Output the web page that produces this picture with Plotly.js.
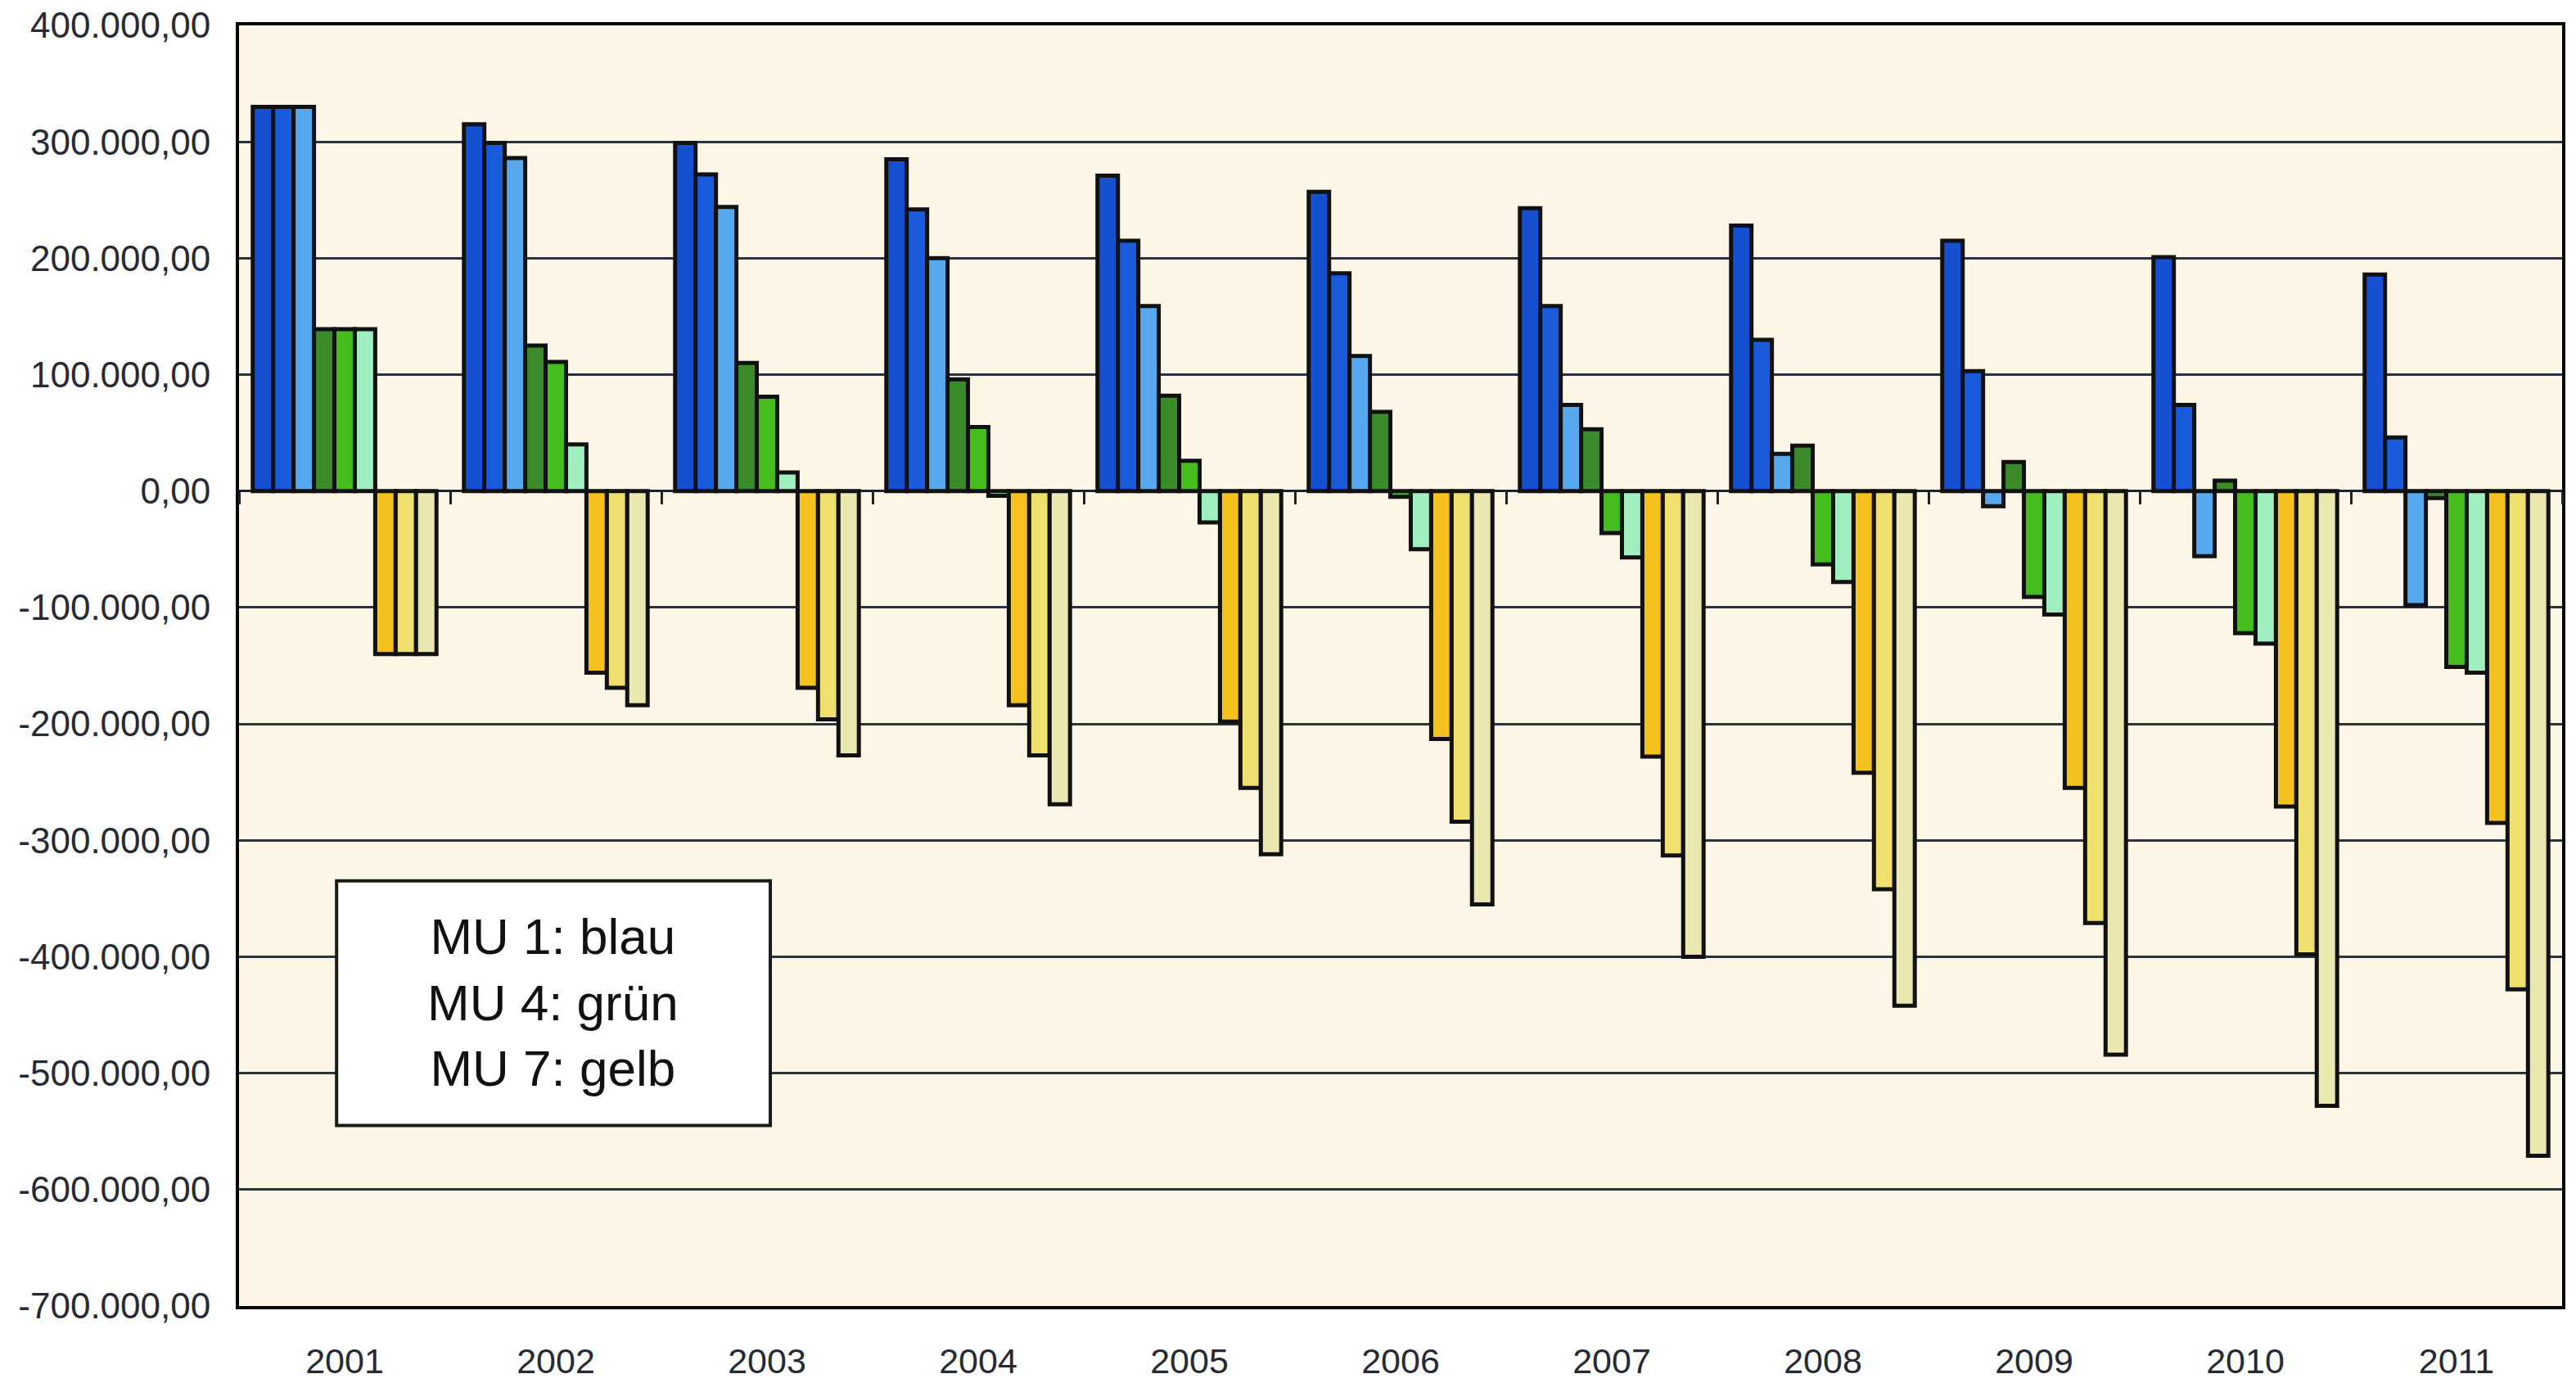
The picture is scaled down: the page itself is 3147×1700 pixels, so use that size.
<!DOCTYPE html>
<html>
<head>
<meta charset="utf-8">
<script src="https://cdn.plot.ly/plotly-3.0.1.min.js"></script>
<style>html,body{margin:0;padding:0;background:#fff;}#chart{width:3147px;height:1700px;}</style>
</head>
<body>
<div id="chart"></div>
<script>
const years = ['2001','2002','2003','2004','2005','2006','2007','2008','2009','2010','2011'];

// MU 1 (blau)
const mu1a = [330000, 315000, 299000, 285000, 271000, 257000, 243000, 228000, 215000, 201000, 186000];
const mu1b = [330000, 299000, 272000, 242000, 215000, 187000, 159000, 130000, 103000, 74000, 46000];
const mu1c = [330000, 286000, 244000, 200000, 159000, 116000, 74000, 32000, -13000, -56000, -98000];
// MU 4 (grün)
const mu4a = [139000, 125000, 110000, 96000, 82000, 68000, 53000, 39000, 25000, 9000, -6000];
const mu4b = [139000, 111000, 81000, 55000, 26000, -5000, -36000, -63000, -91000, -122000, -151000];
const mu4c = [139000, 40000, 16000, -4000, -27000, -50000, -57000, -78000, -106000, -131000, -156000];
// MU 7 (gelb)
const mu7a = [-140000, -156000, -169000, -184000, -198000, -213000, -228000, -242000, -255000, -271000, -285000];
const mu7b = [-140000, -169000, -196000, -227000, -255000, -284000, -313000, -342000, -371000, -398000, -428000];
const mu7c = [-140000, -184000, -227000, -269000, -312000, -355000, -400000, -442000, -484000, -528000, -571000];

const yTickVals = [400000, 300000, 200000, 100000, 0, -100000, -200000, -300000, -400000, -500000, -600000, -700000];
const yTickText = ['400.000,00','300.000,00','200.000,00','100.000,00','0,00','-100.000,00','-200.000,00','-300.000,00','-400.000,00','-500.000,00','-600.000,00','-700.000,00'];

const legendText = ['MU 1: blau', 'MU 4: grün', 'MU 7: gelb'];

const series = [mu1a, mu1b, mu1c, mu4a, mu4b, mu4c, mu7a, mu7b, mu7c];
const colors = ['#1450d0', '#1a5bdc', '#58a8ef', '#3b8b2b', '#45be1d', '#a0efc0', '#f4c11e', '#efdf6e', '#ebe7b0'];

const traces = series.map((vals, i) => ({
  type: 'bar',
  x: years,
  y: vals,
  marker: {color: colors[i], line: {color: '#111', width: 5}},
  showlegend: false,
  hoverinfo: 'y'
}));

// invisible helper trace so the zero-line tick axis is drawn
traces.push({
  type: 'scatter', mode: 'markers', x: years, y: mu1a, xaxis: 'x2',
  marker: {opacity: 0}, showlegend: false, hoverinfo: 'skip'
});

const font = 'Liberation Sans, Arial, sans-serif';
const txt = '#262a35';

const layout = {
  width: 3147, height: 1700,
  margin: {l: 292, r: 17, t: 31, b: 105},
  paper_bgcolor: '#ffffff',
  plot_bgcolor: '#fdf6e6',
  barmode: 'group',
  bargap: 0.13,
  bargroupgap: 0,
  font: {family: font, color: txt},
  xaxis: {
    type: 'category',
    showgrid: false,
    ticks: '',
    tickfont: {size: 43, family: font, color: txt},
    ticklabelstandoff: 26,
    showline: true, linecolor: '#000', linewidth: 4, mirror: true,
    range: [-0.5, 10.5]
  },
  xaxis2: {
    type: 'category',
    overlaying: 'x',
    anchor: 'free',
    position: 7 / 11,
    side: 'bottom',
    range: [-0.5, 10.5],
    tickson: 'boundaries',
    ticks: 'outside', ticklen: 15, tickwidth: 3, tickcolor: '#1c2230',
    showticklabels: false,
    showgrid: false, showline: false, zeroline: false
  },
  yaxis: {
    range: [-700000, 400000],
    tickmode: 'array',
    tickvals: yTickVals,
    ticktext: yTickText,
    tickfont: {size: 44, family: font, color: txt},
    ticks: '',
    ticklabelstandoff: 22,
    showgrid: true, gridcolor: '#2b3240', gridwidth: 3,
    zeroline: true, zerolinecolor: '#1c2230', zerolinewidth: 3,
    showline: true, linecolor: '#000', linewidth: 4, mirror: true
  },
  shapes: [{
    type: 'rect', xref: 'paper', yref: 'paper',
    x0: 0.042, x1: 0.2287, y0: 0.141, y1: 0.332,
    fillcolor: '#ffffff', line: {color: '#1a1a1a', width: 4},
    layer: 'above'
  }],
  annotations: [{
    xref: 'paper', yref: 'paper', x: 0.1353, y: 0.237,
    xanchor: 'center', yanchor: 'middle',
    text: legendText.join('<br>'),
    showarrow: false, align: 'center',
    font: {size: 62, family: font, color: '#111'}
  }]
};

Plotly.newPlot('chart', traces, layout, {displayModeBar: false, staticPlot: true});
</script>
</body>
</html>
